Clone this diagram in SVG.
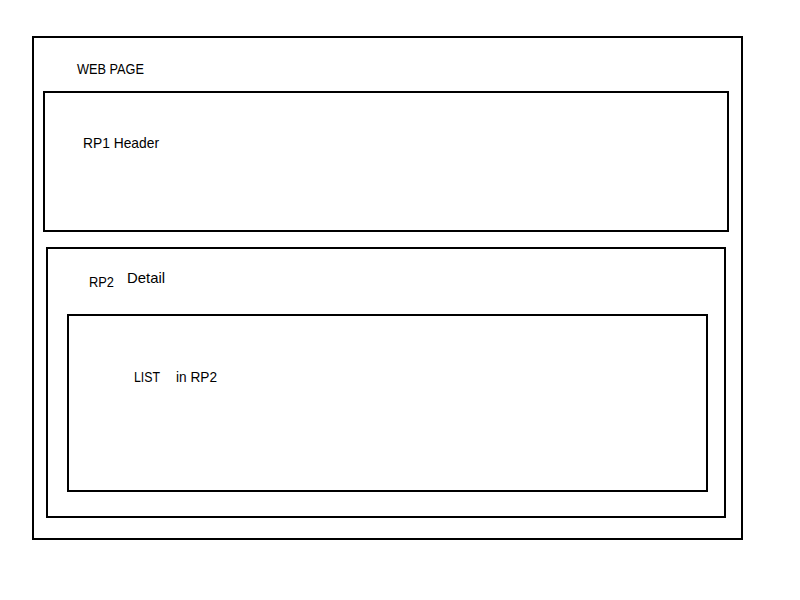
<svg xmlns="http://www.w3.org/2000/svg" width="800" height="600" viewBox="0 0 800 600">
<style>
.box{fill:none;stroke:#000;stroke-width:2}
text{font-family:"Liberation Sans",Arial,sans-serif;font-size:14.5px;fill:#000}
</style>
<rect width="800" height="600" fill="#fff"/>
<g id="webpage">
<rect class="box" x="33" y="37" width="709" height="502"/>
<text x="77" y="73.5" textLength="67" lengthAdjust="spacingAndGlyphs">WEB PAGE</text>
</g>
<g id="rp1">
<rect class="box" x="44" y="92" width="684" height="139"/>
<text x="83" y="148" textLength="76" lengthAdjust="spacingAndGlyphs">RP1 Header</text>
</g>
<g id="rp2">
<rect class="box" x="47" y="248" width="678" height="269"/>
<text x="89" y="287" textLength="25" lengthAdjust="spacingAndGlyphs">RP2</text>
<text x="127" y="283" textLength="38" lengthAdjust="spacingAndGlyphs">Detail</text>
</g>
<g id="list">
<rect class="box" x="68" y="315" width="639" height="176"/>
<text x="134" y="382" textLength="26" lengthAdjust="spacingAndGlyphs">LIST</text>
<text x="176" y="382" textLength="41" lengthAdjust="spacingAndGlyphs">in RP2</text>
</g>
<g id="connectors"/>
</svg>
